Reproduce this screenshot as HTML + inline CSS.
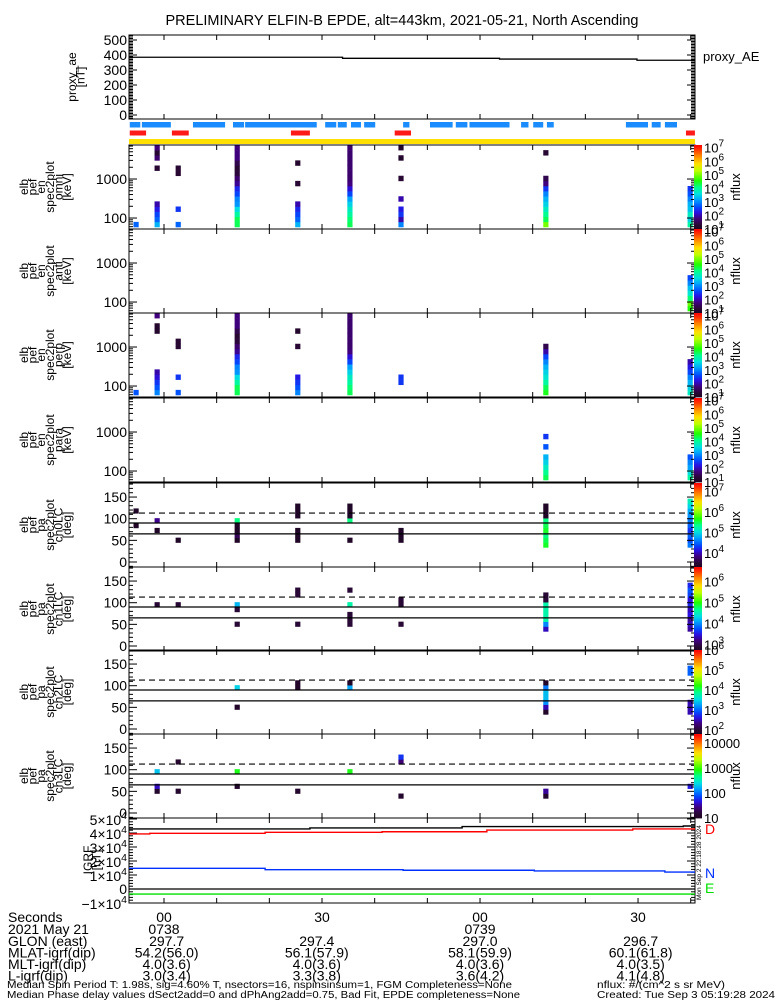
<!DOCTYPE html>
<html><head><meta charset="utf-8"><style>
html,body{margin:0;padding:0;background:#fff;}
svg{display:block;font-family:"Liberation Sans",sans-serif;}
</style></head><body>
<svg id="chart" xmlns="http://www.w3.org/2000/svg" width="775" height="1000" viewBox="0 0 775 1000">
<rect x="0" y="0" width="775" height="1000" fill="#fff"/>
<text x="402" y="25" text-anchor="middle" font-size="14.5">PRELIMINARY ELFIN-B EPDE, alt=443km, 2021-05-21, North Ascending</text>
</svg>
<script>
// ---------- data ----------
const colTimes = [-5.3, -1.3, 2.7, 13.9, 25.4, 35.3, 45.0, 72.5, 99.9];
const aeStepTimes = [-6.7, 33.9, 63.7, 89.8];
const aeValues = [385, 378, 373, 365];
const aeTicks = [0, 100, 200, 300, 400, 500];
const blueBarStarts = [-6.5, -4.2, 5.5, 13.1, 15.4, 30.6, 33.0, 35.5, 38.0, 45.4, 50.5, 55.4, 58.0, 67.8, 70.1, 72.7, 87.7, 92.6, 95.1];
const blueBarEnds = [-4.5, 1.3, 11.6, 15.2, 29.0, 32.7, 34.7, 37.4, 40.1, 46.6, 54.8, 57.6, 65.6, 69.2, 72.0, 74.0, 91.9, 94.3, 97.4];
const redBarStarts = [-6.5, 1.5, 24.1, 43.8, 99.1];
const redBarEnds = [-3.4, 4.7, 27.7, 46.9, 100.8];
const secLabels = ["00", "30", "00", "30"];
const secTimes = [0, 30, 60, 90];
const hhmmLabels = ["0738", "0739"];
const hhmmTimes = [0, 60];
const glonVals = ["297.7", "297.4", "297.0", "296.7"];
const mlatVals = ["54.2(56.0)", "56.1(57.9)", "58.1(59.9)", "60.1(61.8)"];
const mltVals = ["4.0(3.6)", "4.0(3.6)", "4.0(3.6)", "4.0(3.5)"];
const lVals = ["3.0(3.4)", "3.3(3.8)", "3.6(4.2)", "4.1(4.8)"];
const ephemTimes = [0.5, 29, 60, 90.5];
// energy spectra, log10 flux per bin (bin 0 = lowest energy), per column
const N = null;
const omniFlux = [
 [2.8,N,N,N,N,N,N,N,N,N,N,N,N,N,N,N],
 [3.3,2.8,2.6,2.3,2.0,N,N,N,N,N,N,1.3,N,1.7,1.3,1.8],
 [2.8,N,N,2.5,N,N,N,N,N,N,1.3,1.3,N,N,N,N],
 [4.3,4.3,4.0,3.6,3.1,3.0,2.6,2.4,1.9,1.7,1.4,1.3,1.5,1.8,1.8,1.8],
 [3.3,2.8,2.6,2.4,2.0,N,N,N,1.3,N,N,N,1.2,N,N,N],
 [4.3,4.2,4.0,3.8,3.5,3.2,2.6,2.2,1.8,1.7,1.7,1.7,1.7,1.7,1.7,1.7],
 [3.0,2.0,2.5,2.3,N,2.0,N,N,N,1.3,N,N,N,1.2,N,1.2],
 [5.0,4.3,4.1,3.8,3.5,3.3,3.0,2.5,1.8,1.5,N,N,N,N,1.3,N],
 [4.0,3.5,3.8,3.4,3.3,3.0,2.7,2.5,N,N,N,N,N,N,N,N]
];
const antiFlux = [
 [],[],[],[],[],[],[],[],
 [4.6,4.9,4.2,3.7,3.4,3.0,2.6,N,N,N,N,N,N,N,N,N]
];
const perpFlux = [
 [2.7,N,N,N,N,N,N,N,N,N,N,N,N,N,N,N],
 [3.0,2.7,2.5,2.2,2.0,N,N,N,N,N,N,N,1.2,1.2,N,1.8],
 [2.7,N,N,2.5,N,N,N,N,N,1.3,1.3,N,N,N,N,N],
 [4.3,4.3,4.0,3.6,3.1,3.0,2.6,2.4,1.9,1.7,1.4,1.3,1.5,1.8,1.8,1.8],
 [3.0,2.7,2.5,2.3,N,N,N,N,N,1.3,N,N,1.2,N,N,N],
 [4.3,4.2,4.0,3.8,3.5,3.2,2.6,2.2,1.8,1.7,1.7,1.7,1.7,1.7,1.7,1.7],
 [N,N,2.5,2.5,N,N,N,N,N,N,N,N,N,N,N,N],
 [4.5,4.3,4.0,3.7,3.5,3.3,3.0,2.6,2.0,1.5,N,N,N,N,N,N],
 [3.8,3.5,3.3,3.0,2.6,2.3,2.0,N,N,N,N,N,N,N,N,N]
];
const paraFlux = [
 [],[],[],[],[],[],[],
 [4.3,4.1,3.8,3.5,3.3,N,2.7,N,2.5,N,N,N,N,N,N,N],
 [4.0,3.6,3.2,3.0,2.7,N,N,N,N,N,N,N,N,N,N,N]
];
// pitch-angle spectra, log10 flux per 11.25 deg bin
const ch0Flux = [
 [N,N,N,N,N,N,N,3.4,N,N,3.4,N,N,N,N,N],
 [N,N,N,N,N,N,3.4,N,3.9,N,N,N,N,N,N,N],
 [N,N,N,N,3.4,N,N,N,N,N,N,N,N,N,N,N],
 [N,N,N,N,3.4,3.7,3.4,3.4,5.4,N,N,N,N,N,N,N],
 [N,N,N,N,3.4,3.4,3.4,N,N,3.4,3.4,3.4,N,N,N,N],
 [N,N,N,N,3.4,N,N,N,5.4,3.4,3.4,3.4,N,N,N,N],
 [N,N,N,N,3.4,3.4,3.4,N,N,N,N,N,N,N,N,N],
 [N,N,N,5.6,5.5,5.4,5.6,5.5,5.4,3.4,3.4,3.4,N,N,N,N],
 [N,N,N,4.6,4.4,4.5,4.3,4.5,4.6,4.7,4.8,5.0,5.2,N,N,N]
];
const ch1Flux = [
 [],
 [N,N,N,N,N,N,N,N,2.9,N,N,N,N,N,N,N],
 [N,N,N,N,N,N,N,N,2.9,N,N,N,N,N,N,N],
 [N,N,N,N,2.9,N,N,2.9,4.2,N,N,N,N,N,N,N],
 [N,N,N,N,2.9,N,N,N,N,N,2.9,2.9,N,N,N,N],
 [N,N,N,N,2.9,2.9,2.9,N,4.6,N,N,2.9,N,N,N,N],
 [N,N,N,N,2.9,N,N,N,2.9,2.9,N,N,N,N,N,N],
 [N,N,N,3.4,4.0,4.6,4.6,4.6,4.6,2.9,2.9,N,N,N,N,N],
 [N,N,N,3.3,3.4,3.3,3.5,3.4,3.6,3.5,3.7,3.8,3.6,N,N,N]
];
const ch2Flux = [
 [],[],[],
 [N,N,N,N,1.9,N,N,N,3.5,N,N,N,N,N,N,N],
 [N,N,N,N,N,N,N,N,1.9,1.9,N,N,N,N,N,N],
 [N,N,N,N,N,N,N,N,3.3,1.9,N,N,N,N,N,N],
 [],
 [N,N,N,1.9,2.5,3.2,3.4,3.4,3.1,1.9,N,N,N,N,N,N],
 [N,N,N,2.5,2.5,2.5,N,N,N,N,N,3.0,3.0,N,N,N]
];
const ch3Flux = [
 [],
 [N,N,N,N,1.1,1.6,N,N,2.3,N,N,N,N,N,N,N],
 [N,N,N,N,1.1,N,N,N,N,N,1.1,N,N,N,N,N],
 [N,N,N,N,N,1.1,N,N,2.9,N,N,N,N,N,N,N],
 [N,N,N,N,1.1,N,N,N,N,N,N,N,N,N,N,N],
 [N,N,N,N,N,N,N,N,2.9,N,N,N,N,N,N,N],
 [N,N,N,1.1,N,N,N,N,N,N,1.4,1.8,N,N,N,N],
 [N,N,N,1.1,1.5,N,N,N,N,N,N,N,N,N,N,N],
 [N,N,N,N,N,1.7,N,N,N,N,N,N,N,N,N,N]
];
// IGRF components (units of 1e4 nT)
const igrfTotTimes = [-6.7, 27.7, 56.6, 98.6];
const igrfTotVals = [4.29, 4.36, 4.46, 4.50];
const igrfDTimes = [-6.7, -2.7, 19.2, 41.4, 61.3, 89.0];
const igrfDVals = [3.93, 3.98, 4.05, 4.09, 4.21, 4.29];
const igrfNTimes = [-6.7, 19.2, 45.4, 70.3, 95.1];
const igrfNVals = [1.48, 1.38, 1.34, 1.29, 1.21];
const igrfETimes = [-6.7];
const igrfEVals = [-0.36];
const igrfTicks = [-1, 0, 1, 2, 3, 4, 5];

// ---------- helpers ----------
const svg = document.getElementById('chart');
const NS = 'http://www.w3.org/2000/svg';
function mk(tag, attrs, parent) {
  const e = document.createElementNS(NS, tag);
  for (const k in attrs) e.setAttribute(k, attrs[k]);
  (parent || svg).appendChild(e);
  return e;
}
const X0 = 129, X1 = 695;
function xs(t) { return 164 + t * 5.267; }
const stops = [[0,'#1e0620'],[0.06,'#2a0838'],[0.13,'#40007e'],[0.2,'#2a10e0'],[0.27,'#0050ff'],[0.35,'#00a0ff'],[0.42,'#00e0e0'],[0.5,'#00ff90'],[0.58,'#20ff00'],[0.7,'#c0ff00'],[0.78,'#ffe000'],[0.88,'#ff8000'],[1,'#ff0000']];
function hex(c){return [1,3,5].map(i=>parseInt(c.substr(i,2),16));}
function colorOf(v) {
  v = Math.max(0, Math.min(1, v));
  for (let i = 1; i < stops.length; i++) {
    if (v <= stops[i][0]) {
      const a = stops[i-1], b = stops[i], f = (v - a[0]) / (b[0] - a[0]);
      const ca = hex(a[1]), cb = hex(b[1]);
      return 'rgb(' + ca.map((c,j)=>Math.round(c + (cb[j]-c)*f)).join(',') + ')';
    }
  }
  return stops[stops.length-1][1];
}
function txt(x, y, s, size, anchor, fill) {
  const t = mk('text', {x: x, y: y, 'font-size': size, 'text-anchor': anchor || 'start', fill: fill || '#000'});
  t.textContent = s;
  return t;
}
function line(x1, y1, x2, y2, col, w) {
  return mk('line', {x1: x1, y1: y1, x2: x2, y2: y2, stroke: col || '#000', 'stroke-width': w || 1});
}
function timeTicks(top, bot) {
  for (let t = -10; t <= 100; t += 10) {
    const x = xs(t);
    if (x < X0 || x > X1) continue;
    const a = line(x, top, x, top + 5);
    
    
    const b = line(x, bot, x, bot - 5);
    
    
  }
}
function frame(top, bot, name) {
  const r = mk('rect', {x: X0, y: top, width: X1 - X0, height: bot - top, fill: 'none', stroke: '#000', 'stroke-width': 1});
  
  
  timeTicks(top, bot);
}
function yTick(y, len) {
  const a = line(X0, y, X0 + len, y);
  
  
  const b = line(X1, y, X1 - len, y);
  
  
}
function leftTitle(lines, cy, x0, name) {
  const g = mk('g', {});
  
  
  lines.forEach((s, i) => {
    const x = x0 + i * 8.6;
    const t = mk('text', {x: x, y: cy, 'font-size': 12, 'text-anchor': 'middle', transform: 'rotate(-90 ' + x + ' ' + cy + ')'}, g);
    t.textContent = s;
  });
}
function supLabel(x, y, base, exp, size, anchor) {
  const t = mk('text', {x: x, y: y, 'font-size': size, 'text-anchor': anchor || 'start'});
  const a = mk('tspan', {}, t); a.textContent = base;
  const b = mk('tspan', {dy: -6, 'font-size': size * 0.75}, t); b.textContent = exp;
  return t;
}
function colorbar(top, bot, vmin, vmax, labels, name) {
  const g = mk('g', {});
  
  
  const n = 60, h = (bot - top) / n;
  for (let i = 0; i < n; i++) {
    mk('rect', {x: 694, y: bot - (i + 1) * h, width: 8, height: h + 0.4, fill: colorOf((i + 0.5) / n)}, g);
  }
  labels.forEach(e => {
    const y = bot - (e - vmin) / (vmax - vmin) * (bot - top) + 5;
    let t;
    if (name === 'colorbar-ch3lc') {
      t = mk('text', {x: 704, y: y, 'font-size': 13}, g);
      t.textContent = String(Math.round(Math.pow(10, e)));
    } else {
      t = mk('text', {x: 704, y: y, 'font-size': 13}, g);
      const a = mk('tspan', {}, t); a.textContent = '10';
      const b = mk('tspan', {dy: -6, 'font-size': 10}, t); b.textContent = String(e);
    }
    
    
  });
  const cy = (top + bot) / 2;
  const nt = mk('text', {x: 740, y: cy, 'font-size': 13, 'text-anchor': 'middle', transform: 'rotate(-90 740 ' + cy + ')'}, g);
  nt.textContent = 'nflux';
  
  
}

// ---------- proxy AE panel ----------
const aeTop = 35, aeBot = 119;
function aeY(v) { return 115 - v * 0.15; }
frame(aeTop, aeBot, 'proxy-ae');
for (let v = -20; v <= 530; v += 10) {
  const y = aeY(v);
  if (y < aeTop || y > aeBot) continue;
  yTick(y, v % 100 === 0 ? 8 : 4);
}
aeTicks.forEach(v => {
  const t = txt(127, aeY(v) + 5, String(v), 14, 'end');
  
  
});
{
  let d = '';
  aeValues.forEach((v, i) => {
    const x1 = Math.max(X0, xs(aeStepTimes[i]));
    const x2 = i + 1 < aeValues.length ? xs(aeStepTimes[i + 1]) : X1;
    d += (i === 0 ? 'M' : 'L') + x1 + ',' + aeY(v) + ' L' + x2 + ',' + aeY(v) + ' ';
  });
  const p = mk('path', {d: d, fill: 'none', stroke: '#000', 'stroke-width': 1.3});
  
  
}
leftTitle(['proxy_ae', '[nT]'], 77, 76, 'proxy-ae-y-title');
{
  const t = txt(703, 61, 'proxy_AE', 13);
  
  
}

// ---------- status bars ----------
blueBarStarts.forEach((s, i) => {
  const x1 = Math.max(X0, xs(s)), x2 = Math.min(X1, xs(blueBarEnds[i]));
  const r = mk('rect', {x: x1, y: 122, width: x2 - x1, height: 5.5, fill: '#1a8cff'});
  
  
});
redBarStarts.forEach((s, i) => {
  const x1 = Math.max(X0, xs(s)), x2 = Math.min(X1, xs(redBarEnds[i]));
  const r = mk('rect', {x: x1, y: 130.5, width: x2 - x1, height: 5, fill: '#ff1a1a'});
  
  
});
{
  const r = mk('rect', {x: X0, y: 139, width: X1 - X0, height: 5, fill: '#ffe000'});
  
  
}

// ---------- energy spectrogram panels ----------
const eLogMin = 1.77, eLogMax = 3.872, nBins = 16;
function energyPanel(top, data, vmin, vmax, title, name, cbLabels) {
  const bot = top + 84;
  const yOf = lg => bot - 2 - (lg - eLogMin) / (eLogMax - eLogMin) * (bot - 2 - top);
  data.forEach((col, ci) => {
    col.forEach((f, b) => {
      if (f === null || f === undefined) return;
      const lw = eLogMin + b * (eLogMax - eLogMin) / nBins, hi = eLogMin + (b + 1) * (eLogMax - eLogMin) / nBins;
      const y1 = yOf(hi), y2 = yOf(lw);
      const r = mk('rect', {x: xs(colTimes[ci]) - 2.6, y: y1, width: 5.2, height: y2 - y1 + 0.3, fill: colorOf((f - vmin) / (vmax - vmin))});
      
      
    });
  });
  frame(top, bot, name);
  for (let dec = 1; dec <= 3; dec++) {
    for (let m = 1; m <= 9; m++) {
      const lg = dec + Math.log10(m);
      const y = yOf(lg);
      if (y < top || y > bot) continue;
      yTick(y, m === 1 ? 8 : 4);
    }
  }
  [100, 1000].forEach(v => {
    const t = txt(127, yOf(Math.log10(v)) + 5, String(v), 14, 'end');
    
    
  });
  leftTitle(['elb', 'pef', 'en', 'spec2plot', title, '[keV]'], top + 42, 28, name + '-y-title');
  colorbar(top, bot, vmin, vmax, cbLabels, 'colorbar-' + name);
}
energyPanel(145, omniFlux, 1.0, 7.2, 'omni', 'omni', [1,2,3,4,5,6,7]);
energyPanel(229, antiFlux, 1.0, 7.2, 'anti', 'anti', [1,2,3,4,5,6,7]);
energyPanel(313, perpFlux, 1.0, 7.2, 'perp', 'perp', [1,2,3,4,5,6,7]);
energyPanel(398, paraFlux, 1.0, 7.2, 'para', 'para', [1,2,3,4,5,6,7]);

// ---------- pitch angle panels ----------
function paPanel(top, data, vmin, vmax, title, name, cbLabels) {
  const bot = top + 84;
  const yOf = pa => top + 79 - pa * 0.433;
  data.forEach((col, ci) => {
    col.forEach((f, b) => {
      if (f === null || f === undefined) return;
      const y1 = yOf((b + 1) * 11.25), y2 = yOf(b * 11.25);
      const r = mk('rect', {x: xs(colTimes[ci]) - 2.6, y: y1, width: 5.2, height: y2 - y1 + 0.3, fill: colorOf((f - vmin) / (vmax - vmin))});
      
      
    });
  });
  frame(top, bot, name);
  for (let v = -10; v <= 190; v += 10) {
    const y = yOf(v);
    if (y < top || y > bot) continue;
    yTick(y, v % 50 === 0 ? 8 : 4);
  }
  [0, 50, 100, 150].forEach(v => {
    const t = txt(127, yOf(v) + 5, String(v), 14, 'end');
    
    
  });
  const l1 = line(X0, yOf(90), X1, yOf(90), '#000', 1.2);
  
  
  const l2 = line(X0, yOf(65), X1, yOf(65), '#000', 1.2);
  
  
  const l3 = mk('line', {x1: X0, y1: yOf(113), x2: X1, y2: yOf(113), stroke: '#000', 'stroke-width': 1.2, 'stroke-dasharray': '6,4'});
  
  
  leftTitle(['elb', 'pef', 'pa', 'spec2plot', title, '[deg]'], top + 42, 28, name + '-y-title');
  colorbar(top, bot, vmin, vmax, cbLabels, 'colorbar-' + name);
}
paPanel(483, ch0Flux, 3.33, 7.4, 'ch0LC', 'ch0lc', [4,5,6,7]);
paPanel(567, ch1Flux, 2.7, 6.7, 'ch1LC', 'ch1lc', [3,4,5,6]);
paPanel(650, ch2Flux, 1.8, 6.0, 'ch2LC', 'ch2lc', [2,3,4,5,6]);
paPanel(734, ch3Flux, 1.0, 4.35, 'ch3LC', 'ch3lc', [1,2,3,4]);

// ---------- IGRF panel ----------
const gTop = 818, gBot = 903;
function gY(v) { return 889 - v * 14; }
frame(gTop, gBot, 'igrf');
for (let v = -1.0; v <= 5.05; v += 0.2) {
  const y = gY(v);
  if (y < gTop || y > gBot) continue;
  yTick(y, Math.abs(v - Math.round(v)) < 0.01 ? 8 : 4);
}
igrfTicks.forEach(v => {
  let t;
  if (v === 0) t = txt(127, gY(v) + 5, '0', 14, 'end');
  else t = supLabel(127, gY(v) + 6, (v < 0 ? '\u2212' : '') + Math.abs(v) + '\u00d710', '4', 14, 'end');
  
  
});
function stepLine(times, vals, col, name) {
  let d = '';
  vals.forEach((v, i) => {
    const x1 = Math.max(X0, xs(times[i]));
    const x2 = i + 1 < vals.length ? xs(times[i + 1]) : X1;
    d += (i === 0 ? 'M' : 'L') + x1 + ',' + gY(v) + ' L' + x2 + ',' + gY(v) + ' ';
  });
  const p = mk('path', {d: d, fill: 'none', stroke: col, 'stroke-width': 1.4});
  
  
}
{
  const z = line(X0, gY(0), X1, gY(0), '#000', 1.2);
  
  
}
stepLine(igrfTotTimes, igrfTotVals, '#000', 'igrf-total-line');
stepLine(igrfDTimes, igrfDVals, '#ff0000', 'igrf-d-line');
stepLine(igrfNTimes, igrfNVals, '#0030ff', 'igrf-n-line');
stepLine(igrfETimes, igrfEVals, '#00e000', 'igrf-e-line');
leftTitle(['IGRF', '[nT]'], 860, 92, 'igrf-y-title');
[['D', gY(4.29) + 5, '#ff0000'], ['N', gY(1.21) + 6, '#0030ff'], ['E', gY(-0.36) - 1, '#00e000']].forEach(a => {
  const t = txt(705, a[1], a[0], 14, 'start', a[2]);
  
  
});
{
  const t = mk('text', {x: 701, y: 900, 'font-size': 6.5, transform: 'rotate(-90 701 900)'});
  t.textContent = 'Mon Sep  2 22:18:28 2024';
  
  
}

// ---------- bottom annotation ----------
const rowY = [922, 934, 946, 957.5, 969, 980.5];
const rowNames = ['Seconds', '2021 May 21', 'GLON (east)', 'MLAT-igrf(dip)', 'MLT-igrf(dip)', 'L-igrf(dip)'];
rowNames.forEach((s, i) => {
  const t = txt(8, rowY[i], s, 14);
  
  
});
secLabels.forEach((s, i) => {
  const t = txt(xs(secTimes[i]), rowY[0], s, 14, 'middle');
  
  
});
hhmmLabels.forEach((s, i) => {
  const t = txt(xs(hhmmTimes[i]), rowY[1], s, 14, 'middle');
  
  
});
[glonVals, mlatVals, mltVals, lVals].forEach((arr, r) => {
  arr.forEach((s, i) => {
    const t = txt(xs(ephemTimes[i]), rowY[r + 2], s, 14, 'middle');
    
    
  });
});
[[7, 988, 'Median Spin Period T: 1.98s, sig=4.60% T, nsectors=16, nspinsinsum=1, FGM Completeness=None', 505],
 [597, 988, 'nflux: #/(cm^2 s sr MeV)', 128],
 [7, 998, 'Median Phase delay values dSect2add=0 and dPhAng2add=0.75, Bad Fit, EPDE completeness=None', 513],
 [597, 998, 'Created: Tue Sep  3 05:19:28 2024', 178]].forEach(a => {
  const t = mk('text', {x: a[0], y: a[1], 'font-size': 10, textLength: a[3], lengthAdjust: 'spacingAndGlyphs'});
  t.textContent = a[2];
  
  
});
</script>
</body></html>
